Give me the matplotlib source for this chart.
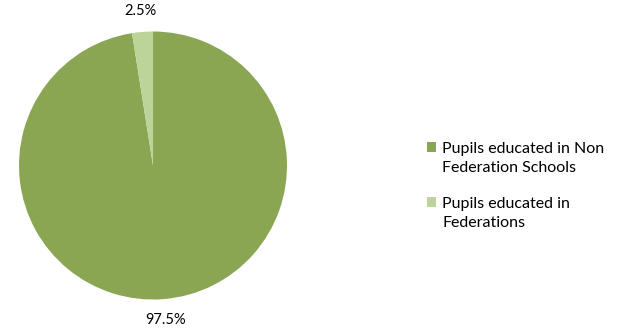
import matplotlib
matplotlib.use("Agg")
import matplotlib.pyplot as plt
from matplotlib.patches import Rectangle

# Pupil distribution by school type
categories = ["Pupils educated in Non\nFederation Schools", "Pupils educated in\nFederations"]
shares = [97.5, 2.5]
colors = ["#8BA653", "#BCD49A"]

plt.rcParams["font.family"] = ["Lato", "DejaVu Sans"]

W, H = 617, 332
fig = plt.figure(figsize=(W / 100, H / 100), dpi=100)

# pie occupies a square region in pixels: centre (153, 165.5), radius 134
cx, cy, r = 153, 165.5, 134
ax = fig.add_axes([(cx - r) / W, (H - cy - r) / H, 2 * r / W, 2 * r / H])
wedges, texts, autotexts = ax.pie(
    shares,
    colors=colors,
    startangle=90,
    counterclock=False,
    autopct="%.1f%%",
    pctdistance=1.16,
    wedgeprops=dict(linewidth=0),
    textprops=dict(fontsize=10.5, color="#000000"),
)
ax.set_xlim(-1, 1)
ax.set_ylim(-1, 1)
ax.set_aspect("auto")

# legend: swatch aligned with the first line of each label
entry_tops = [147, 202]   # pixel centre of first text line
sw = 9.5
for label, color, yc in zip(categories, colors, entry_tops):
    fig.patches.append(Rectangle((427 / W, 1 - (yc + sw / 2) / H), sw / W, sw / H,
                                 transform=fig.transFigure, facecolor=color,
                                 edgecolor="none"))
    fig.text(442 / W, 1 - (yc - 5) / H, label, fontsize=11.5, ha="left", va="top",
             linespacing=1.45, color="#000000")

fig.savefig("out.png", dpi=100, facecolor="white")
